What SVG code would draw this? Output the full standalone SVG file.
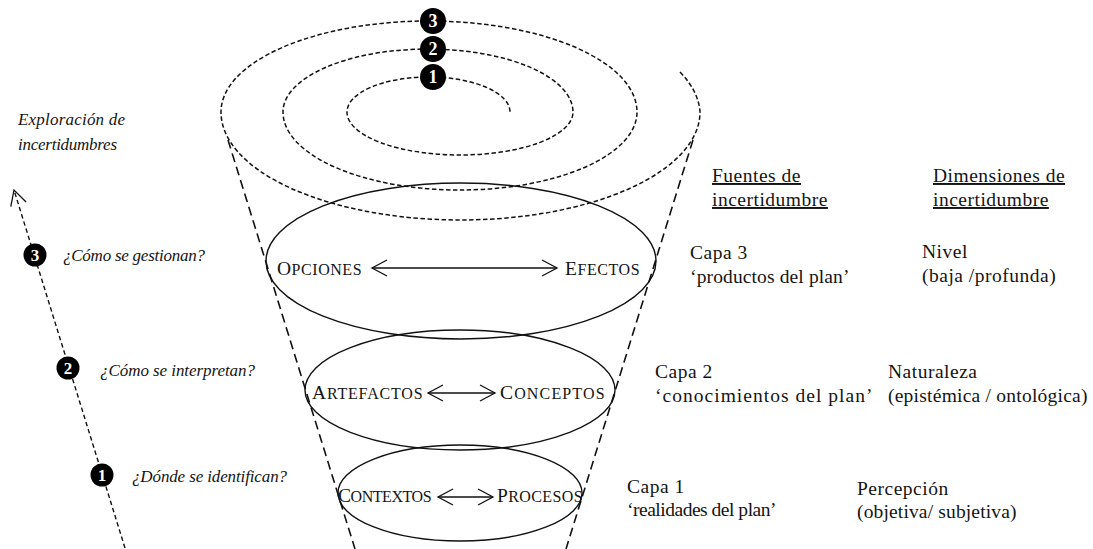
<svg xmlns="http://www.w3.org/2000/svg" width="1093" height="549" viewBox="0 0 1093 549">
  <style>
    text { font-family: "Liberation Serif", "Times New Roman", serif; fill: #141414; }
    .it { font-style: italic; font-size: 17px; }
    .lbl { font-size: 19.5px; letter-spacing: 0.5px; }
    .hd { font-size: 19.5px; letter-spacing: 0.5px; text-decoration: underline; }
    .sc { font-size: 19.5px; letter-spacing: 0.4px; }
    .sc tspan { font-size: 16px; }
    .num { font-size: 17px; font-weight: bold; fill: #fff; text-anchor: middle; }
    .spiral { fill: none; stroke: #111; stroke-width: 1.5; stroke-dasharray: 4.5 2.5; }
    .cone { fill: none; stroke: #111; stroke-width: 1.6; stroke-dasharray: 9 5; }
    .layer { fill: none; stroke: #111; stroke-width: 1.4; }
    .dbl { fill: none; stroke: #111; stroke-width: 1.3; marker-start: url(#chev); marker-end: url(#chev); }
    .axis { fill: none; stroke: #111; stroke-width: 1.4; stroke-dasharray: 4.5 3; marker-end: url(#chev); }
    .dot { fill: #000; }
  </style>
  <defs>
    <marker id="chev" markerUnits="userSpaceOnUse" markerWidth="20" markerHeight="20" refX="15" refY="8" orient="auto-start-reverse" overflow="visible">
      <path d="M0,0 L15,8 L0,16" fill="none" stroke="#111" stroke-width="1.3"/>
    </marker>
  </defs>

  <!-- exploration axis on the left -->
  <g id="axis">
    <path class="axis" d="M125,548 L14,190"/>
    <text class="it" x="18" y="125" textLength="107">Exploración de</text>
    <text class="it" x="18" y="150" textLength="99">incertidumbres</text>
  </g>
  <g id="step3">
    <circle class="dot" cx="35" cy="255" r="11.5"/>
    <text class="num" x="35" y="261">3</text>
    <text class="it" x="63" y="261" textLength="142">¿Cómo se gestionan?</text>
  </g>
  <g id="step2">
    <circle class="dot" cx="68" cy="368" r="11.5"/>
    <text class="num" x="68" y="374">2</text>
    <text class="it" x="100" y="376" textLength="155">¿Cómo se interpretan?</text>
  </g>
  <g id="step1">
    <circle class="dot" cx="102" cy="475" r="11.5"/>
    <text class="num" x="102" y="481">1</text>
    <text class="it" x="132" y="482" textLength="155">¿Dónde se identifican?</text>
  </g>

  <!-- spiral and cone outline -->
  <g id="connectors">
    <path class="spiral" d="M680,72 A240,108 0 0 1 700,112 A239.5,108 0 0 1 221,112 A208,91 0 0 1 637,112 A177,78 0 0 1 283,112 A145,63 0 0 1 573,112 A113,43 0 0 1 347,112 A81.5,35 0 0 1 510,112"/>
    <path class="cone" d="M228,140 L355,549"/>
    <path class="cone" d="M693,140 L566,549"/>
    <path class="dbl" d="M372,268 L557,268"/>
    <path class="dbl" d="M428,393 L495,393"/>
    <path class="dbl" d="M438,497 L493,497"/>
  </g>

  <g id="spiral-marks">
    <circle class="dot" cx="433" cy="21" r="13"/>
    <text class="num" x="433" y="27" style="font-size:18px">3</text>
    <circle class="dot" cx="433" cy="49" r="13"/>
    <text class="num" x="433" y="55" style="font-size:18px">2</text>
    <circle class="dot" cx="433" cy="77" r="13"/>
    <text class="num" x="433" y="83" style="font-size:18px">1</text>
  </g>

  <!-- layers of the plan -->
  <g id="layer3">
    <ellipse class="layer" cx="461" cy="261" rx="195" ry="78"/>
    <text class="sc" x="277" y="275" textLength="85">O<tspan>PCIONES</tspan></text>
    <text class="sc" x="565" y="275" textLength="75">E<tspan>FECTOS</tspan></text>
  </g>
  <g id="layer2">
    <ellipse class="layer" cx="460" cy="390" rx="155" ry="60"/>
    <text class="sc" x="312" y="399" textLength="111">A<tspan>RTEFACTOS</tspan></text>
    <text class="sc" x="500" y="399" textLength="105">C<tspan>ONCEPTOS</tspan></text>
  </g>
  <g id="layer1">
    <ellipse class="layer" cx="460" cy="493" rx="122" ry="48"/>
    <text class="sc" x="338" y="502" textLength="94">C<tspan>ONTEXTOS</tspan></text>
    <text class="sc" x="497" y="502" textLength="86">P<tspan>ROCESOS</tspan></text>
  </g>

  <!-- sources column -->
  <g id="sources">
    <text class="hd" x="712" y="182">Fuentes de</text>
    <text class="hd" x="712" y="206">incertidumbre</text>
    <text class="lbl" x="690" y="259">Capa 3</text>
    <text class="lbl" x="690" y="283" textLength="160">‘productos del plan’</text>
    <text class="lbl" x="655" y="378">Capa 2</text>
    <text class="lbl" x="655" y="402" textLength="218">‘conocimientos del plan’</text>
    <text class="lbl" x="627" y="493">Capa 1</text>
    <text class="lbl" x="627" y="516" textLength="150">‘realidades del plan’</text>
  </g>

  <!-- dimensions column -->
  <g id="dimensions">
    <text class="hd" x="933" y="182">Dimensiones de</text>
    <text class="hd" x="933" y="206">incertidumbre</text>
    <text class="lbl" x="922" y="258">Nivel</text>
    <text class="lbl" x="922" y="282">(baja /profunda)</text>
    <text class="lbl" x="888" y="378">Naturaleza</text>
    <text class="lbl" x="888" y="402" textLength="200">(epistémica / ontológica)</text>
    <text class="lbl" x="857" y="495">Percepción</text>
    <text class="lbl" x="857" y="518" textLength="160">(objetiva/ subjetiva)</text>
  </g>
</svg>
